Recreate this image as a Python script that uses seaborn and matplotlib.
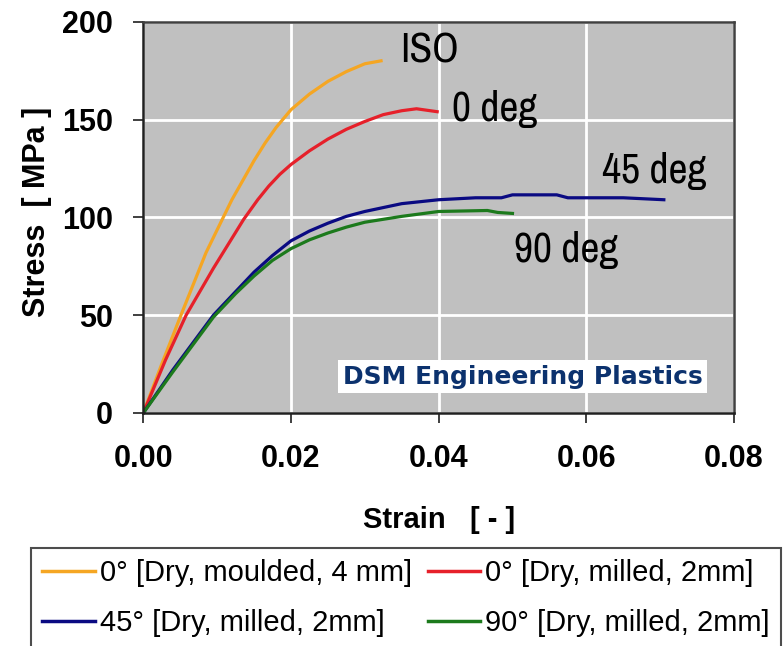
import matplotlib
matplotlib.use("Agg")
import matplotlib.pyplot as plt
from matplotlib import font_manager
import seaborn as sns
import pandas as pd

# ---- data ----
iso_strain = [0, 0.0025, 0.0051, 0.0085, 0.0107, 0.012, 0.0135, 0.015, 0.0165, 0.018, 0.02,
              0.0225, 0.025, 0.0275, 0.03, 0.0322]
iso_stress = [0, 25, 50, 82, 99, 109, 119, 129, 138, 146, 155, 163, 169.5, 174.5, 178.5, 180]

deg0_strain = [0, 0.003, 0.0058, 0.0095, 0.0136, 0.0155, 0.017, 0.0185, 0.02, 0.0225, 0.025,
               0.0275, 0.03, 0.0325, 0.035, 0.037, 0.0398]
deg0_stress = [0, 27, 50, 74, 99, 109, 116, 122, 127, 134, 140, 145, 149, 152.5, 154.5, 155.5, 154]

deg45_strain = [0, 0.004, 0.0095, 0.0125, 0.015, 0.0175, 0.02, 0.0225, 0.025, 0.0275, 0.03,
                0.035, 0.04, 0.045, 0.0485, 0.05, 0.056, 0.0575, 0.065, 0.0705]
deg45_stress = [0, 22, 50, 62, 72, 80.5, 88, 93, 97, 100.5, 103, 107, 109, 110, 110, 111.5,
                111.5, 110, 110, 109]

deg90_strain = [0, 0.004, 0.0095, 0.0125, 0.015, 0.0175, 0.02, 0.0225, 0.025, 0.0275, 0.03,
                0.035, 0.04, 0.0466, 0.048, 0.050]
deg90_stress = [0, 21, 49, 61, 70, 78, 84, 88.5, 92, 95, 97.5, 100.5, 103, 103.5, 102.5, 102]

series_labels = ["0° [Dry, moulded, 4 mm]", "0° [Dry, milled, 2mm]",
                 "45° [Dry, milled, 2mm]", "90° [Dry, milled, 2mm]"]
series_colors = ["#F5A623", "#E6202A", "#0A0A82", "#1C7A1C"]
curve_names = ["ISO", "0 deg", "45 deg", "90 deg"]
name_pos_x = [0.0348, 0.0418, 0.0621, 0.0502]
name_pos_y = [179.4, 149.2, 117.6, 77.2]

x_ticks = [0.00, 0.02, 0.04, 0.06, 0.08]
y_ticks = [0, 50, 100, 150, 200]

frames = []
for lab, xs, ys in zip(series_labels,
                       [iso_strain, deg0_strain, deg45_strain, deg90_strain],
                       [iso_stress, deg0_stress, deg45_stress, deg90_stress]):
    frames.append(pd.DataFrame({"strain": xs, "stress": ys, "series": lab}))
df = pd.concat(frames, ignore_index=True)

# look for a narrow sans font for the curve names
narrow_file = None
for f in font_manager.fontManager.ttflist:
    if "Narrow" in f.name and f.weight in (400, "normal", "regular") and f.style == "normal":
        narrow_file = f.fname
        break
if narrow_file:
    name_font = font_manager.FontProperties(fname=narrow_file, size=30)
else:
    name_font = font_manager.FontProperties(family=["Liberation Sans", "DejaVu Sans"], size=27)

plt.rcParams["font.family"] = ["Liberation Sans", "DejaVu Sans"]

fig = plt.figure(figsize=(7.83, 6.46), dpi=100)
ax = fig.add_axes([0.183, 0.3607, 0.9374 - 0.183, 0.9664 - 0.3607])
ax.set_facecolor("#C0C0C0")

sns.lineplot(data=df, x="strain", y="stress", hue="series",
             palette=dict(zip(series_labels, series_colors)),
             hue_order=series_labels, sort=False, estimator=None,
             linewidth=2.3, legend=False, ax=ax)

ax.set_xlim(0, 0.08)
ax.set_ylim(0, 200)
ax.set_xticks(x_ticks)
ax.set_xticklabels([f"{v:.2f}" for v in x_ticks])
ax.set_yticks(y_ticks)
ax.set_yticklabels([str(v) for v in y_ticks])
ax.grid(True, color="white", linewidth=2)
ax.set_axisbelow(True)
ax.tick_params(axis="both", direction="out", length=7, width=1.3, color="#303030",
               labelsize=22, pad=15)
for lab in ax.get_xticklabels() + ax.get_yticklabels():
    lab.set_fontweight("bold")
for sp in ax.spines.values():
    sp.set_color("#404040")
    sp.set_linewidth(1.8)
ax.spines["left"].set_color("#202020")
ax.spines["bottom"].set_color("#202020")

ax.set_xlabel("Strain   [ - ]", fontsize=21, fontweight="bold")
ax.set_ylabel("Stress  [ MPa ]", fontsize=22, fontweight="bold")
ax.xaxis.set_label_coords(0.5, -0.238)
ax.yaxis.set_label_coords(-0.155, 0.514)

for nm, px, py in zip(curve_names, name_pos_x, name_pos_y):
    ax.text(px, py, nm, fontproperties=name_font,
            ha="left", va="baseline", color="black")

ax.text(0.0514, 18.4, "DSM Engineering Plastics", fontsize=18, fontweight="bold",
        family=["DejaVu Sans"], color="#0C326E", ha="center", va="center",
        bbox=dict(boxstyle="square,pad=0.18", facecolor="white", edgecolor="none"))

handles = ax.get_lines()[:4]
order = [0, 2, 1, 3]
leg = fig.legend([handles[i] for i in order], [series_labels[i] for i in order],
                 loc="upper left", bbox_to_anchor=(31 / 783, 98 / 646),
                 ncol=2, fontsize=21, frameon=True, fancybox=False,
                 handlelength=1.8, handletextpad=0.17, columnspacing=0.55,
                 labelspacing=0.75, borderpad=0.38, borderaxespad=0)
leg.get_frame().set_edgecolor("#202020")
leg.get_frame().set_linewidth(1.5)
for h in leg.get_lines():
    h.set_linewidth(2.5)

fig.savefig("out.png", dpi=100)
